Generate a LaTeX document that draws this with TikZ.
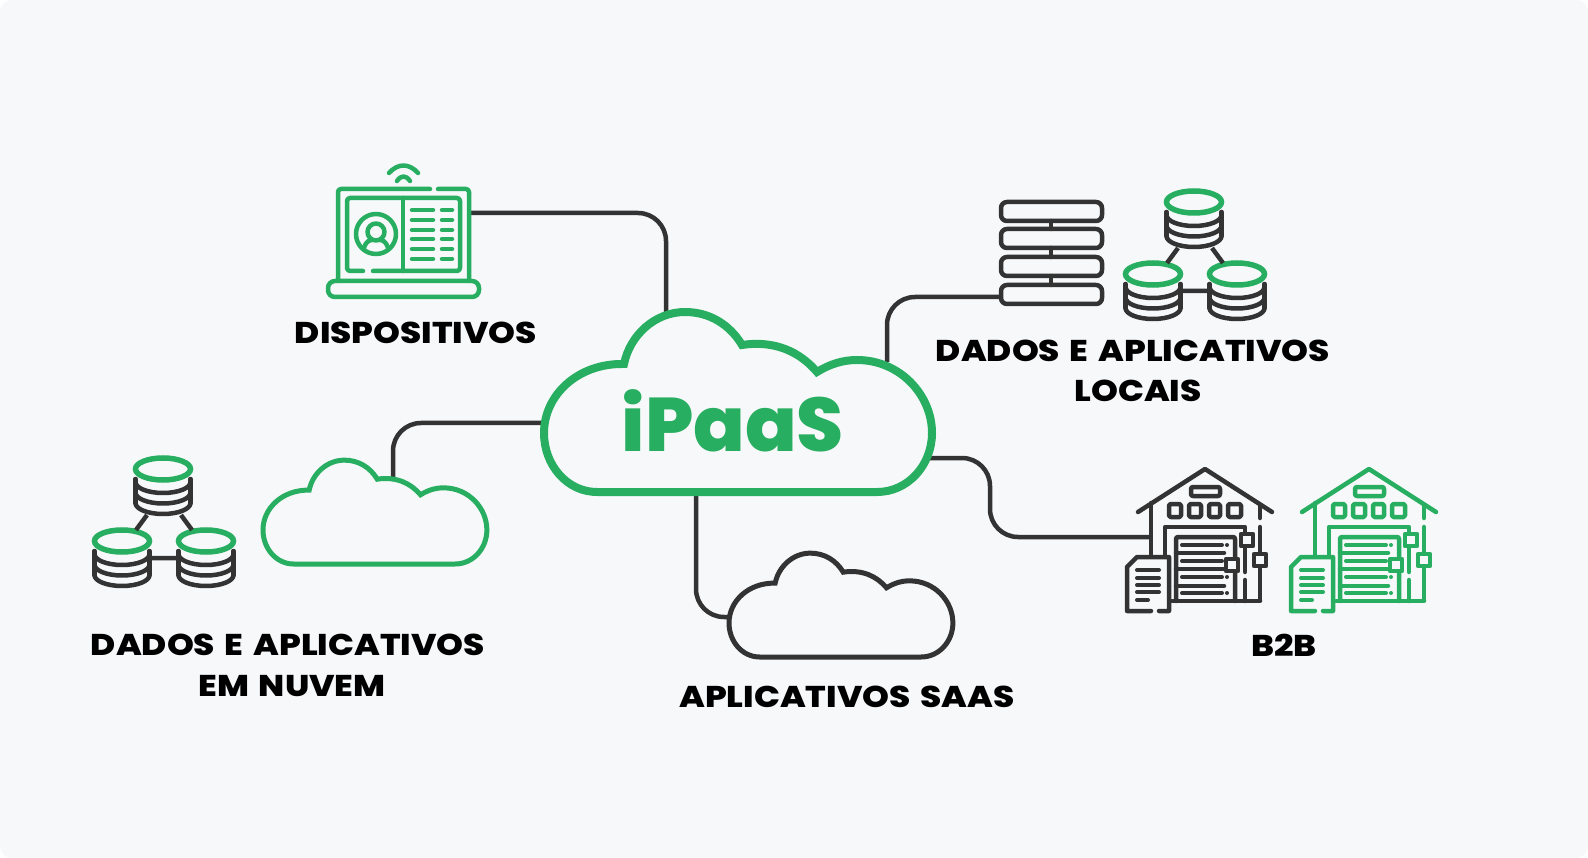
\documentclass[tikz,border=0pt]{standalone}
\usepackage{fontspec}
\setmainfont{Poppins}[BoldFont={Poppins ExtraBold}]
\newfontfamily\labelfont{Poppins ExtraBold}[FakeStretch=1.14,WordSpace=1.5]
\newfontfamily\titlefont{Poppins ExtraBold}
\definecolor{bg}{HTML}{F6F8FA}
\definecolor{grn}{HTML}{27AE60}
\definecolor{drk}{HTML}{333333}
\tikzset{
  label text/.style={font=\labelfont\fontsize{30}{30}\selectfont,text=black,align=center,inner sep=0pt},
  conn/.style={draw=drk,line width=4.5pt,rounded corners=28pt},
  ic/.style={line width=4.5pt,line cap=round,line join=round},
  pics/cloudshape/.style={code={
    \draw[pic actions,line join=miter]
      (53,0) .. controls (23,0) and (0,-27) .. (0,-59)
      .. controls (0,-97) and (34,-129) .. (80,-128)
      .. controls (86,-157) and (111,-180) .. (141,-180)
      .. controls (166,-180) and (186,-167) .. (198,-147)
      .. controls (231,-152) and (256,-140) .. (273,-120)
      .. controls (286,-128) and (299,-132) .. (313,-132)
      .. controls (356,-132) and (388,-97) .. (388,-59)
      .. controls (388,-27) and (364,0) .. (333,0) -- cycle;
  }},
  pics/dbstack/.style={code={
    \foreach \c in {13,23.5,34}{
      \draw[ic,draw=drk] (-27.5,\c) arc[start angle=180,end angle=0,x radius=27.5,y radius=11];
    }
    \draw[ic,draw=drk] (-27.5,10)--(-27.5,34) (27.5,10)--(27.5,34);
    \draw[draw=grn,fill=bg,line width=5.5pt] (0,0) ellipse[x radius=27.5,y radius=11];
  }},
  pics/dbcluster/.style={code={
    \pic at (0,0) {dbstack};
    \pic at (-41,72) {dbstack};
    \pic at (43,72) {dbstack};
    \draw[ic,draw=drk,line cap=butt] (-16,46)--(-27,61) (18,46)--(29,61) (-13,89)--(15,89);
  }},
  pics/warehouse/.style={code={
    \begin{scope}[ic,draw=#1,shift={(-1205,-469)}]
    \draw (1138,512)--(1205,469)--(1272,512);
    \draw (1151,503)--(1151,555);
    \draw (1260,505)--(1260,518) (1260,527)--(1260,553) (1260,567)--(1260,600);
    \draw (1172,601)--(1260,601);
    \draw[rounded corners=2pt] (1191,487) rectangle (1220,496);
    \foreach \a/\b in {1169/1181,1189/1201,1209/1220,1228/1241}{
      \draw[rounded corners=1.5pt] (\a,504) rectangle (\b,517);
    }
    \draw (1165,555)--(1165,527)--(1245,527)--(1245,533) (1245,547)--(1245,572) (1245,580)--(1245,601);
    \draw[rounded corners=2pt] (1176,601)--(1176,537)--(1235,537)--(1235,601);
    \foreach \y in {553,569,586}{\draw (1176,\y)--(1224,\y);}
    \foreach \y in {545,561,577,593}{
      \draw[line width=4pt] (1182,\y)--(1222,\y);
      \fill[#1] (1227,\y) circle[radius=2pt];
    }
    \draw[fill=bg] (1241,534) rectangle (1253,546);
    \draw[fill=bg] (1254,554) rectangle (1266,566);
    \draw[fill=bg] (1226,559) rectangle (1238,571);
    \draw (1159,611)--(1169,611)--(1169,557)--(1137,557)--(1127,567)--(1127,611)--(1151,611);
    \foreach \y in {570,578,585,592}{\draw[line width=4pt] (1137,\y)--(1159,\y);}
    \draw[line width=4pt] (1137,600)--(1148,600);
    \end{scope}
  }},
}
\begin{document}
\begin{tikzpicture}[x=1pt,y=-1pt]
\useasboundingbox (0,0) rectangle (1588,858);
\fill[white] (0,0) rectangle (1588,858);
\fill[bg,rounded corners=12pt] (0,0) rectangle (1588,858);

% anchors on the shapes
\coordinate (laptopPort) at (471,213);
\coordinate (cloudTop) at (666,313);
\coordinate (serverPort) at (1001,297);
\coordinate (cloudTopRight) at (887,362);
\coordinate (cloudLeft) at (546,423);
\coordinate (nuvemTop) at (393,478);
\coordinate (cloudRight) at (930,458);
\coordinate (b2bPort) at (1150,537);
\coordinate (cloudBottom) at (696,492);
\coordinate (saasPort) at (729,617);
\coordinate (b2bBendA) at (990,458);
\coordinate (b2bBendB) at (990,537);

% connectors
\draw[conn] (laptopPort) -| (cloudTop);
\draw[conn] (serverPort) -| (cloudTopRight);
\draw[conn] (cloudLeft) -| (nuvemTop);
\draw[conn] (cloudRight) -- (b2bBendA) -- (b2bBendB) -- (b2bPort);
\draw[conn] (cloudBottom) |- (saasPort);

% clouds
\pic[draw=grn,fill=bg,line width=8pt] (mainCloud) at (544,492) {cloudshape};
\pic[draw=grn,fill=none,line width=5pt,scale=.577] (nuvemCloud) at (263,564) {cloudshape};
\pic[draw=drk,fill=none,line width=5pt,scale=.577] (saasCloud) at (729,657) {cloudshape};

% laptop
\begin{scope}[ic,draw=grn]
\draw[rounded corners=3pt] (430,189)--(338,189)--(338,281);
\draw[rounded corners=3pt] (438,189)--(469,189)--(469,281);
\draw[rounded corners=3pt] (363,271)--(347,271)--(347,198)--(460,198)--(460,271)--(373,271);
\draw (403,198)--(403,271);
\draw (376,234) circle[radius=20];
\draw (376,232) circle[radius=8.5];
\draw (364,248) .. controls (366,241) and (370,240) .. (372,240) (388,248) .. controls (386,241) and (382,240) .. (380,240);
\foreach \y in {210,220,230,239,249,259}{
  \draw (412,\y)--(433,\y);
  \draw (442,\y)--(452,\y);
}
\draw[rounded corners=7pt] (328,281)--(479,281)--(479,297)--(328,297)--cycle;
\draw (389,173) .. controls (398,163) and (409,163) .. (418,173);
\draw (397,181) .. controls (401,175) and (406,175) .. (410,181);
\end{scope}

% server stack
\begin{scope}[ic,draw=drk]
\foreach \a/\b in {202/221,229/248,257/276,285/304}{
  \draw[rounded corners=6pt] (1001,\a) rectangle (1102,\b);
}
\draw (1051,221)--(1051,229) (1051,248)--(1051,257) (1051,276)--(1051,285);
\end{scope}

% database clusters
\pic at (1194,202) {dbcluster};
\pic at (163,469) {dbcluster};

% warehouses
\pic at (1205,469) {warehouse=drk};
\pic at (1369,469) {warehouse=grn};

% texts
\node[font=\titlefont\fontsize{76}{76}\selectfont,text=grn,inner sep=0pt] (tIpaas) at (733,421) {iPaaS};
\node[label text] (tDisp) at (416,333) {DISPOSITIVOS};
\node[label text] (tLoc1) at (1133,351) {DADOS E APLICATIVOS};
\node[label text] (tLoc2) at (1138,391) {LOCAIS};
\node[label text] (tNuv1) at (288,645) {DADOS E APLICATIVOS};
\node[label text] (tNuv2) at (292,686) {EM NUVEM};
\node[label text] (tSaas) at (847,697) {APLICATIVOS SAAS};
\node[label text] (tB2b) at (1284,645) {B2B};
\end{tikzpicture}
\end{document}
